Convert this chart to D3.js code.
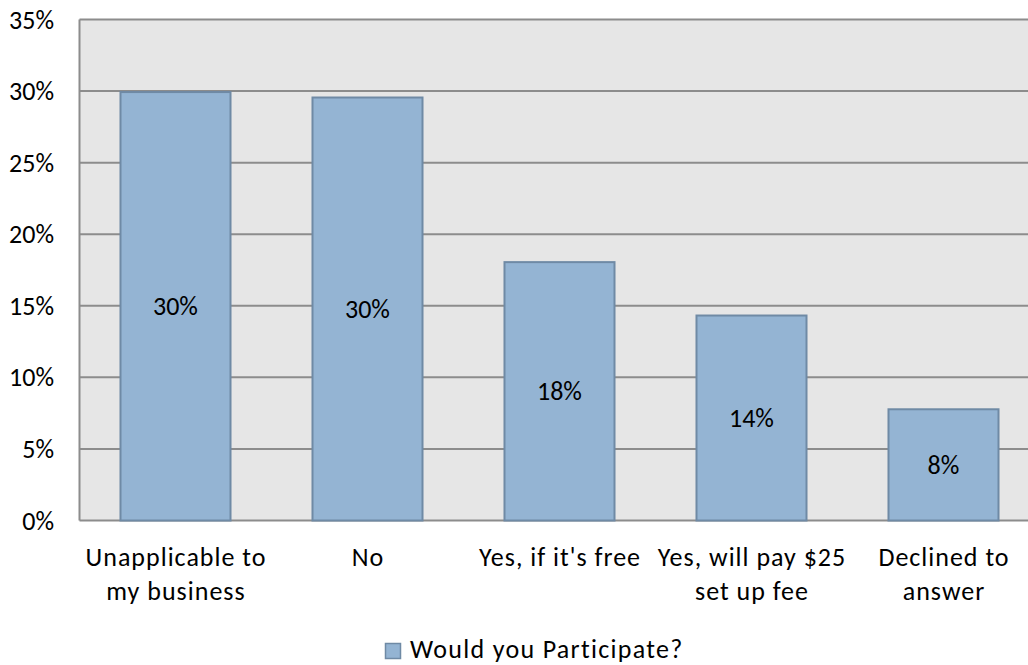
<!DOCTYPE html>
<html>
<head>
<meta charset="utf-8">
<script src="https://cdn.jsdelivr.net/npm/d3@7"></script>
<style>
  html, body { margin: 0; padding: 0; background: #fff; }
  svg text { font-family: Calibri, Carlito, "Open Sans", "Liberation Sans", sans-serif; fill: #000; }
</style>
</head>
<body>
<svg id="chart" width="1028" height="665"></svg>
<script>
// Survey responses
const categories = [
  ["Unapplicable to", "my business"],
  ["No"],
  ["Yes, if it's free"],
  ["Yes, will pay $25", "set up fee"],
  ["Declined to", "answer"]
];
const values = [0.2993, 0.2955, 0.1805, 0.1432, 0.0777];
const valueLabels = ["30%", "30%", "18%", "14%", "8%"];
const yTicks = [0, 0.05, 0.10, 0.15, 0.20, 0.25, 0.30, 0.35];
const seriesName = "Would you Participate?";

const svg = d3.select("#chart");
const plotLeft = 79.5, plotTop = 19.5, plotBottom = 520.5, plotRight = 79.5 + 5 * 192;
const fontSize = 26;

const x = d3.scaleBand().domain(d3.range(categories.length)).range([plotLeft, plotRight])
  .paddingInner(0.427).paddingOuter(0.2135);
const y = d3.scaleLinear().domain([0, 0.35]).range([plotBottom, plotTop]);

// plot background
svg.append("rect").attr("x", plotLeft).attr("y", plotTop)
  .attr("width", plotRight - plotLeft).attr("height", plotBottom - plotTop)
  .attr("fill", "#e6e6e6");

// gridlines
svg.append("g").selectAll("line").data(yTicks).join("line")
  .attr("x1", plotLeft).attr("x2", plotRight)
  .attr("y1", d => y(d)).attr("y2", d => y(d))
  .attr("stroke", "#8c8c8c").attr("stroke-width", 2);

// left axis line
svg.append("line").attr("x1", plotLeft).attr("x2", plotLeft).attr("y1", plotTop).attr("y2", plotBottom)
  .attr("stroke", "#8c8c8c").attr("stroke-width", 2);

// y tick labels
svg.append("g").selectAll("text").data(yTicks).join("text")
  .attr("x", 54).attr("y", d => y(d) + 9)
  .attr("text-anchor", "end").attr("font-size", fontSize)
  .text(d => Math.round(d * 100) + "%");

// bars
svg.append("g").selectAll("rect").data(values).join("rect")
  .attr("x", (d, i) => x(i))
  .attr("y", d => y(d))
  .attr("width", x.bandwidth())
  .attr("height", d => plotBottom - y(d))
  .attr("fill", "#94b4d3").attr("stroke", "#6f8aa5").attr("stroke-width", 2);

// value labels
svg.append("g").selectAll("text").data(values).join("text")
  .attr("x", (d, i) => x(i) + x.bandwidth() / 2)
  .attr("y", d => (y(d) + plotBottom) / 2 + 9)
  .attr("text-anchor", "middle").attr("font-size", fontSize)
  .text((d, i) => valueLabels[i]);

// category labels (slightly tracked out)
const catSpacing = 1;
const cat = svg.append("g").selectAll("text").data(categories).join("text")
  .attr("x", (d, i) => x(i) + x.bandwidth() / 2 + catSpacing / 2)
  .attr("y", 566)
  .attr("text-anchor", "middle").attr("font-size", fontSize)
  .attr("letter-spacing", catSpacing);
cat.selectAll("tspan").data(d => d).join("tspan")
  .attr("x", function () { return d3.select(this.parentNode).attr("x"); })
  .attr("dy", (d, i) => i === 0 ? 0 : 34)
  .text(d => d);

// legend
svg.append("rect").attr("x", 385.5).attr("y", 643.5).attr("width", 15).attr("height", 15)
  .attr("fill", "#94b4d3").attr("stroke", "#6f8aa5").attr("stroke-width", 1.5);
svg.append("text").attr("x", 410).attr("y", 658).attr("font-size", fontSize)
  .attr("letter-spacing", 1.3).text(seriesName);
</script>
</body>
</html>
